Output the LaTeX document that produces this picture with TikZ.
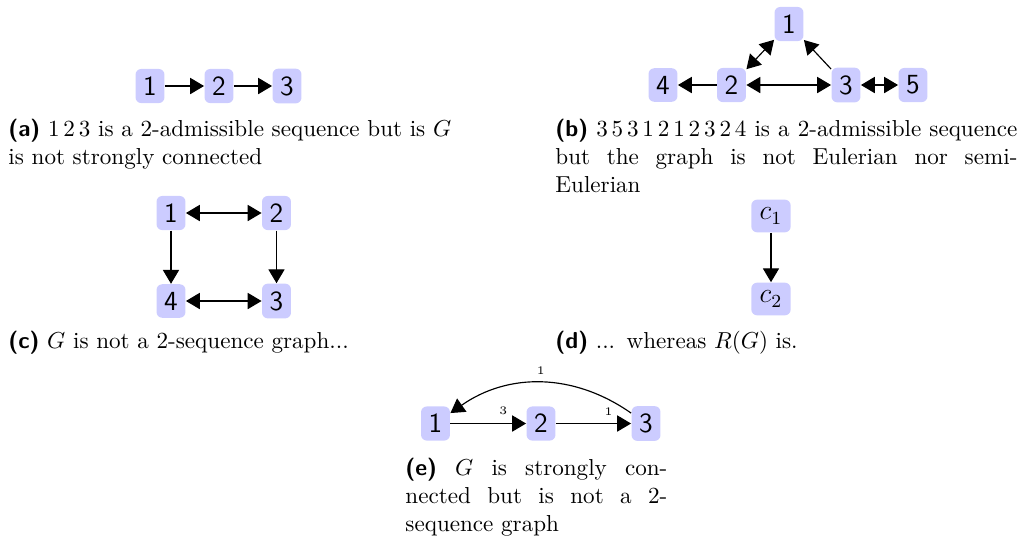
\documentclass[tikz,border=0pt]{standalone}
\usetikzlibrary{arrows.meta}
\newcommand\sublab[1]{\textsf{\bfseries(#1)}}
\begin{document}
\begin{tikzpicture}[x=0.4329pt,y=-0.4329pt,
  vtx/.style={fill=blue!20, rounded corners=2.5pt, font=\sffamily\large, inner sep=3.33pt},
  cvtx/.style={fill=blue!20, rounded corners=2.5pt, font=\large, inner sep=3.6pt},
  arr/.style={-{Triangle[length=6pt,width=7pt]}, line width=0.5pt},
  barr/.style={{Triangle[length=6pt,width=7pt]}-{Triangle[length=6pt,width=7pt]}, line width=0.5pt},
  captxt/.style={anchor=base west, inner sep=0pt, font=\fontsize{10pt}{12.3pt}\selectfont, align=justify},
  lbl/.style={font=\tiny}]
\useasboundingbox (0,0) rectangle (1021,540);
% (a)
\node[vtx] (a1) at (150,86) {1};
\node[vtx] (a2) at (219,86) {2};
\node[vtx] (a3) at (287,86) {3};
\draw[arr] (a1) -- (a2);
\draw[arr] (a2) -- (a3);
\node[captxt, align=left, text width=215pt] (capa) at (8,136) {\sublab{a} $1\,2\,3$ is a 2-admissible sequence but is $G$\\is not strongly connected};
% (b)
\node[vtx] (b1) at (789,24) {1};
\node[vtx] (b4) at (663,85) {4};
\node[vtx] (b2) at (731.5,85) {2};
\node[vtx] (b3) at (846,85) {3};
\node[vtx] (b5) at (913,85) {5};
\draw[arr] (b2) -- (b4);
\draw[barr] (b2) -- (b3);
\draw[barr] (b3) -- (b5);
\draw[barr] (b2) -- (b1);
\draw[arr] (b3) -- (b1);
\node[captxt, text width=200pt] (capb) at (555,136) {\sublab{b} $3\,5\,3\,1\,2\,1\,2\,3\,2\,4$ is a 2-admissible sequence\linebreak but the graph is not Eulerian nor semi-\linebreak Eulerian};
% (c)
\node[vtx] (c1) at (171,213) {1};
\node[vtx] (c2) at (276.5,213) {2};
\node[vtx] (c4) at (171,301) {4};
\node[vtx] (c3) at (276.5,301) {3};
\draw[barr] (c1) -- (c2);
\draw[barr] (c4) -- (c3);
\draw[arr] (c1) -- (c4);
\draw[arr] (c2) -- (c3);
\node[captxt, align=left, text width=200pt] (capc) at (8,348) {\sublab{c} $G$ is not a 2-sequence graph...};
% (d)
\node[cvtx] (d1) at (771,216) {$c_1$};
\node[cvtx] (d2) at (771,299) {$c_2$};
\draw[arr] (d1) -- (d2);
\node[captxt, align=left, text width=200pt] (capd) at (555,348) {\sublab{d} ... whereas $R(G)$ is.};
% (e)
\node[vtx] (e1) at (435.5,423.5) {1};
\node[vtx] (e2) at (541,423.5) {2};
\node[vtx] (e3) at (646,423.5) {3};
\draw[arr] (e1) -- node[lbl, pos=0.7, above] {3} (e2);
\draw[arr] (e2) -- node[lbl, pos=0.7, above] {1} (e3);
\draw[arr] (e3) to[bend right=35] node[lbl, above] {1} (e1);
\node[captxt, text width=113.4pt] (cape) at (405,475) {\sublab{e} $G$ is strongly con-\linebreak nected but is not a 2-\linebreak sequence graph};
\end{tikzpicture}
\end{document}
